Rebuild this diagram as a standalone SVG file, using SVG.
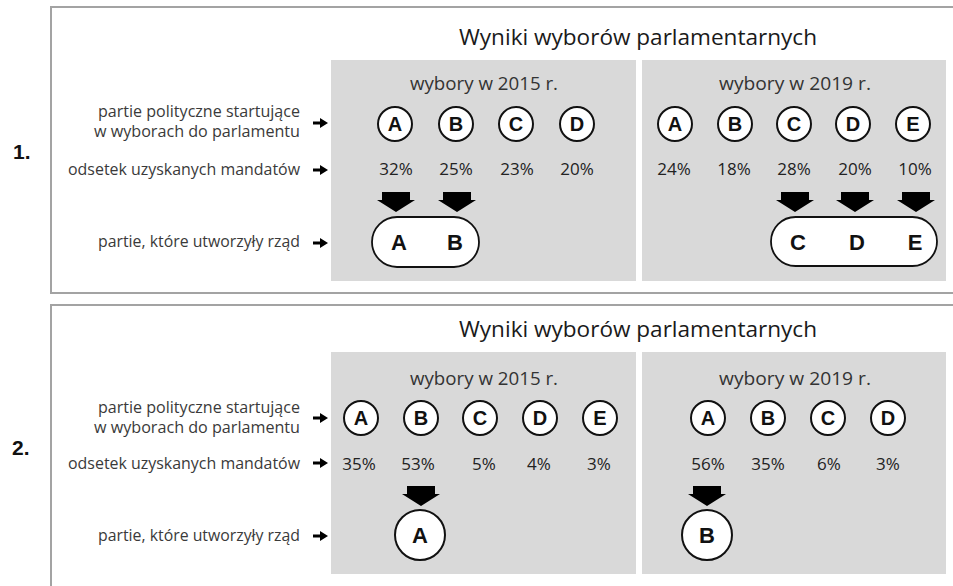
<svg xmlns="http://www.w3.org/2000/svg" width="953" height="586" viewBox="0 0 953 586">
<defs>
<style>
.frame{fill:#fff;stroke:#a3a3a3;stroke-width:2}
.grey{fill:#d9d9d9}
.title{font-family:"Open Sans","Liberation Sans",sans-serif;font-size:22px;fill:#1a1a1a}
.year{font-family:"Open Sans","Liberation Sans",sans-serif;font-size:19px;fill:#333}
.lbl{font-family:"Open Sans","Liberation Sans",sans-serif;font-size:16px;fill:#3a3a3a;text-anchor:end}
.num{font-family:"Liberation Sans",Arial,sans-serif;font-size:21px;font-weight:bold;fill:#111}
.pct{font-family:"Open Sans","Liberation Sans",sans-serif;font-size:17px;fill:#222;text-anchor:middle}
.circ{fill:#fff;stroke:#111;stroke-width:2}
.pill{fill:#fff;stroke:#111;stroke-width:1.8}
.let{font-family:"Liberation Sans",Arial,sans-serif;font-size:20px;font-weight:bold;fill:#111;text-anchor:middle}
.big{font-family:"Liberation Sans",Arial,sans-serif;font-size:22px;font-weight:bold;fill:#111;text-anchor:middle}
.darrow{fill:#000}
.sarrow{fill:#000}
</style>
<path id="dn" d="M-14,0 H14 V8 H19 L0,20 L-19,8 H-14 Z"/>
<path id="sm" d="M0,-1.4 H7 V-5 L15,0 L7,5 V1.4 H0 Z"/>
</defs>

<!-- Panel 1 -->
<g id="panel1">
<rect class="frame" x="51" y="7" width="920" height="286"/>
<text class="num" x="13" y="159">1.</text>
<text class="title" x="459" y="45" textLength="358" lengthAdjust="spacingAndGlyphs">Wyniki wyborów parlamentarnych</text>
<text class="lbl" x="300" y="117" textLength="202" lengthAdjust="spacingAndGlyphs">partie polityczne startujące</text>
<text class="lbl" x="300" y="137" textLength="206" lengthAdjust="spacingAndGlyphs">w wyborach do parlamentu</text>
<text class="lbl" x="300" y="175" textLength="232" lengthAdjust="spacingAndGlyphs">odsetek uzyskanych mandatów</text>
<text class="lbl" x="300" y="247" textLength="202" lengthAdjust="spacingAndGlyphs">partie, które utworzyły rząd</text>
</g>

<g id="p1-2015">
<rect class="grey" x="331" y="60" width="305" height="221"/>
<text class="year" x="410" y="90" textLength="148" lengthAdjust="spacingAndGlyphs">wybory w 2015 r.</text>
</g>
<g id="p1-2015-A"><circle class="circ" cx="395" cy="124" r="17"/><text class="let" x="395" y="131">A</text><text class="pct" x="396" y="175">32%</text></g>
<g id="p1-2015-B"><circle class="circ" cx="456" cy="124" r="17"/><text class="let" x="456" y="131">B</text><text class="pct" x="456" y="175">25%</text></g>
<g id="p1-2015-C"><circle class="circ" cx="516" cy="124" r="17"/><text class="let" x="516" y="131">C</text><text class="pct" x="517" y="175">23%</text></g>
<g id="p1-2015-D"><circle class="circ" cx="577" cy="124" r="17"/><text class="let" x="577" y="131">D</text><text class="pct" x="577" y="175">20%</text></g>
<g id="p1-2015-gov"><rect class="pill" x="372" y="217" width="107" height="50" rx="25"/><text class="big" x="399" y="250">A</text><text class="big" x="455" y="250">B</text></g>

<g id="p1-2019">
<rect class="grey" x="642" y="60" width="304" height="221"/>
<text class="year" x="719" y="90" textLength="152" lengthAdjust="spacingAndGlyphs">wybory w 2019 r.</text>
</g>
<g id="p1-2019-A"><circle class="circ" cx="675" cy="124" r="17"/><text class="let" x="675" y="131">A</text><text class="pct" x="674" y="175">24%</text></g>
<g id="p1-2019-B"><circle class="circ" cx="735" cy="124" r="17"/><text class="let" x="735" y="131">B</text><text class="pct" x="734" y="175">18%</text></g>
<g id="p1-2019-C"><circle class="circ" cx="794" cy="124" r="17"/><text class="let" x="794" y="131">C</text><text class="pct" x="794" y="175">28%</text></g>
<g id="p1-2019-D"><circle class="circ" cx="853" cy="124" r="17"/><text class="let" x="853" y="131">D</text><text class="pct" x="855" y="175">20%</text></g>
<g id="p1-2019-E"><circle class="circ" cx="913" cy="124" r="17"/><text class="let" x="913" y="131">E</text><text class="pct" x="915" y="175">10%</text></g>
<g id="p1-2019-gov"><rect class="pill" x="771" y="217" width="166" height="49" rx="24.5"/><text class="big" x="798" y="250">C</text><text class="big" x="857" y="250">D</text><text class="big" x="915" y="250">E</text></g>

<!-- Panel 2 -->
<g id="panel2">
<rect class="frame" x="51" y="305" width="920" height="300"/>
<text class="num" x="12" y="455">2.</text>
<text class="title" x="459" y="337" textLength="358" lengthAdjust="spacingAndGlyphs">Wyniki wyborów parlamentarnych</text>
<text class="lbl" x="300" y="413" textLength="202" lengthAdjust="spacingAndGlyphs">partie polityczne startujące</text>
<text class="lbl" x="300" y="433" textLength="206" lengthAdjust="spacingAndGlyphs">w wyborach do parlamentu</text>
<text class="lbl" x="300" y="469" textLength="232" lengthAdjust="spacingAndGlyphs">odsetek uzyskanych mandatów</text>
<text class="lbl" x="300" y="541" textLength="202" lengthAdjust="spacingAndGlyphs">partie, które utworzyły rząd</text>
</g>

<g id="p2-2015">
<rect class="grey" x="331" y="352" width="305" height="222"/>
<text class="year" x="410" y="385" textLength="148" lengthAdjust="spacingAndGlyphs">wybory w 2015 r.</text>
</g>
<g id="p2-2015-A"><circle class="circ" cx="361" cy="418" r="17"/><text class="let" x="361" y="425">A</text><text class="pct" x="359" y="470">35%</text></g>
<g id="p2-2015-B"><circle class="circ" cx="421" cy="418" r="17"/><text class="let" x="421" y="425">B</text><text class="pct" x="418" y="470">53%</text></g>
<g id="p2-2015-C"><circle class="circ" cx="480" cy="418" r="17"/><text class="let" x="480" y="425">C</text><text class="pct" x="484" y="470">5%</text></g>
<g id="p2-2015-D"><circle class="circ" cx="540" cy="418" r="17"/><text class="let" x="540" y="425">D</text><text class="pct" x="539" y="470">4%</text></g>
<g id="p2-2015-E"><circle class="circ" cx="600" cy="418" r="17"/><text class="let" x="600" y="425">E</text><text class="pct" x="599" y="470">3%</text></g>
<g id="p2-2015-gov"><circle class="circ" cx="420" cy="535" r="25"/><text class="big" x="420" y="543">A</text></g>

<g id="p2-2019">
<rect class="grey" x="642" y="352" width="304" height="222"/>
<text class="year" x="719" y="385" textLength="152" lengthAdjust="spacingAndGlyphs">wybory w 2019 r.</text>
</g>
<g id="p2-2019-A"><circle class="circ" cx="708" cy="418" r="17"/><text class="let" x="708" y="425">A</text><text class="pct" x="708" y="470">56%</text></g>
<g id="p2-2019-B"><circle class="circ" cx="768" cy="418" r="17"/><text class="let" x="768" y="425">B</text><text class="pct" x="768" y="470">35%</text></g>
<g id="p2-2019-C"><circle class="circ" cx="828" cy="418" r="17"/><text class="let" x="828" y="425">C</text><text class="pct" x="829" y="470">6%</text></g>
<g id="p2-2019-D"><circle class="circ" cx="888" cy="418" r="17"/><text class="let" x="888" y="425">D</text><text class="pct" x="888" y="470">3%</text></g>
<g id="p2-2019-gov"><circle class="circ" cx="707" cy="535" r="25"/><text class="big" x="707" y="543">B</text></g>

<g id="connectors">
<use href="#sm" class="sarrow" x="313" y="123"/>
<use href="#sm" class="sarrow" x="313" y="170"/>
<use href="#sm" class="sarrow" x="313" y="243"/>
<use href="#sm" class="sarrow" x="313" y="418"/>
<use href="#sm" class="sarrow" x="313" y="463"/>
<use href="#sm" class="sarrow" x="313" y="536"/>
<use href="#dn" class="darrow" x="396" y="192"/>
<use href="#dn" class="darrow" x="457" y="192"/>
<use href="#dn" class="darrow" x="795" y="192"/>
<use href="#dn" class="darrow" x="855" y="192"/>
<use href="#dn" class="darrow" x="916" y="192"/>
<use href="#dn" class="darrow" x="421" y="486"/>
<use href="#dn" class="darrow" x="707" y="486"/>
</g>
</svg>
